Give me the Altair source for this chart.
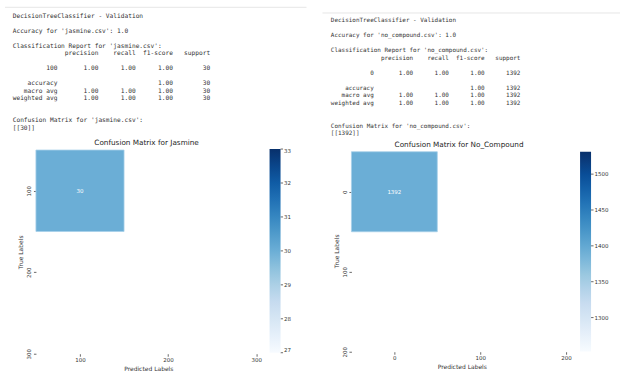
import re

import altair as alt
import pandas as pd

# ---------------- values ----------------
model_name = "DecisionTreeClassifier - Validation"
report_headers = ["precision", "recall", "f1-score", "support"]

# jasmine.csv
left_file = "jasmine.csv"
left_title = "Confusion Matrix for Jasmine"
left_classes = ["100"]
left_precision = [1.00]
left_recall = [1.00]
left_f1 = [1.00]
left_support = [30]
left_accuracy = 1.0
left_cm_labels = [100]
left_cm_counts = [30]
left_x_ticks = [100, 200, 300]
left_y_ticks = [100, 200, 300]
left_cbar_ticks = [27, 28, 29, 30, 31, 32, 33]

# no_compound.csv
right_file = "no_compound.csv"
right_title = "Confusion Matrix for No_Compound"
right_classes = ["0"]
right_precision = [1.00]
right_recall = [1.00]
right_f1 = [1.00]
right_support = [1392]
right_accuracy = 1.0
right_cm_labels = [0]
right_cm_counts = [1392]
right_x_ticks = [0, 100, 200]
right_y_ticks = [0, 100, 200]
right_cbar_ticks = [1300, 1350, 1400, 1450, 1500]

# matplotlib "Blues"
blues = ["#f7fbff", "#deebf7", "#c6dbef", "#9ecae1", "#6baed6",
         "#4292c6", "#2171b5", "#08519c", "#08306b"]

TEXT_COLOR = "#333333"
SANS = "DejaVu Sans"
MONO = "DejaVu Sans Mono"
COLS = 60  # console width in characters
BAR = 11   # colour bar thickness


def report_lines(fname, classes, prec, rec, f1, sup, acc, counts):
    """Console output of the validation run, line by line."""
    w = max(len("weighted avg"), max(len(c) for c in classes))
    head = "{:>{w}s} ".format("", w=w) + "".join(" {:>9}".format(h) for h in report_headers)

    def row(name, p, r, f, s):
        return ("{:>{w}s} ".format(name, w=w) + " {:>9.2f}".format(p)
                + " {:>9.2f}".format(r) + " {:>9.2f}".format(f) + " {:>9}".format(s))

    total = sum(sup)
    class_rows = [row(c, p, r, f, s) for c, p, r, f, s in zip(classes, prec, rec, f1, sup)]
    acc_row = ("{:>{w}s} ".format("accuracy", w=w) + " {:>9}".format("") * 2
               + " {:>9.2f}".format(acc) + " {:>9}".format(total))
    n = len(classes)
    macro = row("macro avg", sum(prec) / n, sum(rec) / n, sum(f1) / n, total)
    weighted = row("weighted avg",
                   sum(p * s for p, s in zip(prec, sup)) / total,
                   sum(r * s for r, s in zip(rec, sup)) / total,
                   sum(f * s for f, s in zip(f1, sup)) / total, total)
    lines = [model_name, "",
             f"Accuracy for '{fname}': {acc}", "",
             f"Classification Report for '{fname}':",
             head, "", *class_rows, "", acc_row, macro, weighted, "", "",
             f"Confusion Matrix for '{fname}':",
             "[[" + " ".join(str(c) for c in counts) + "]]"]
    # one record per word, keeping its character column
    recs = [{"row": r, "col": m.start(), "word": m.group()}
            for r, ln in enumerate(lines) for m in re.finditer(r"\S+", ln)]
    return pd.DataFrame(recs)


def panel(fname, title, classes, prec, rec, f1, sup, acc, labels, counts,
          x_ticks, y_ticks, cbar_ticks, x_dom, y_dom, width, height,
          text_x, text_rows, mono_size, sep_x, sep_y, cbar_x, cbar_y, cbar_len,
          title_x, title_y):
    cm = pd.DataFrame({"label": labels, "count": counts})
    vmin, vmax = counts[0] * 0.9, counts[0] * 1.1
    stops = [vmin + (vmax - vmin) * i / (len(blues) - 1) for i in range(len(blues))]

    base = alt.Chart(cm).transform_calculate(
        lo="datum.label - 50", hi="datum.label + 50"
    )
    cells = base.mark_rect(stroke="#a6cfe9", strokeWidth=0.8).encode(
        x=alt.X("lo:Q", scale=alt.Scale(domain=x_dom, nice=False, zero=False),
                axis=alt.Axis(values=x_ticks, format="d", title="Predicted Labels",
                              labelPadding=1.5, titlePadding=2.5)),
        x2="hi:Q",
        y=alt.Y("lo:Q", scale=alt.Scale(domain=y_dom, nice=False, zero=False, reverse=True),
                axis=alt.Axis(values=y_ticks, format="d", title="True Labels",
                              labelAngle=270, labelAlign="center", labelBaseline="bottom",
                              labelPadding=1.5, titlePadding=3)),
        y2="hi:Q",
        color=alt.Color("count:Q",
                        scale=alt.Scale(domain=stops, range=blues),
                        legend=alt.Legend(orient="none", legendX=cbar_x, legendY=cbar_y,
                                          direction="vertical", title=None,
                                          gradientLength=cbar_len, gradientThickness=BAR,
                                          gradientStrokeWidth=0,
                                          values=cbar_ticks, format="d",
                                          labelFont=SANS, labelFontSize=5.5,
                                          labelColor=TEXT_COLOR, labelOffset=3.5,
                                          labelAlign="left", labelBaseline="middle",
                                          labelOverlap=False)),
    )
    annot = alt.Chart(cm).mark_text(fontSize=5.5, font=SANS, color="white").encode(
        x="label:Q", y="label:Q", text="count:Q"
    )
    heat = alt.layer(cells, annot)

    # small tick marks on the right edge of the colour bar
    bar_ticks = alt.Chart(pd.DataFrame({"v": cbar_ticks})).mark_rule(
        color="#444444", strokeWidth=0.8
    ).encode(
        x=alt.value(cbar_x + BAR), x2=alt.value(cbar_x + BAR + 2.5),
        y=alt.Y("v:Q", axis=None,
                scale=alt.Scale(domain=[vmin, vmax], range=[cbar_y + cbar_len, cbar_y])),
    )

    words = report_lines(fname, classes, prec, rec, f1, sup, acc, counts)
    console = alt.Chart(words).mark_text(
        align="left", baseline="middle", font=MONO, fontSize=mono_size, color=TEXT_COLOR
    ).encode(
        x=alt.X("col:Q", axis=None,
                scale=alt.Scale(domain=[0, COLS],
                                range=[text_x, text_x + COLS * 0.602 * mono_size])),
        y=alt.Y("row:Q", scale=alt.Scale(domain=[0, 15], range=text_rows), axis=None),
        text="word:N",
    )
    heading = alt.Chart(pd.DataFrame({"t": [title]})).mark_text(
        font=SANS, fontSize=7.3, color="#262626", align="center", baseline="middle"
    ).encode(x=alt.value(title_x), y=alt.value(title_y), text="t:N")
    separator = alt.Chart(cm).mark_rule(color="#e6e6e6", strokeWidth=1).encode(
        x=alt.value(sep_x[0]), x2=alt.value(sep_x[1]), y=alt.value(sep_y)
    )
    return alt.layer(heat, bar_ticks, console, heading, separator).resolve_scale(
        x="independent", y="independent"
    ).properties(width=width, height=height)


left = panel(left_file, left_title, left_classes, left_precision, left_recall, left_f1,
             left_support, left_accuracy, left_cm_labels, left_cm_counts,
             left_x_ticks, left_y_ticks, left_cbar_ticks,
             x_dom=[50, 305], y_dom=[50, 300], width=225, height=204,
             text_x=-23.3, text_rows=[-134, -22.3], mono_size=6.2,
             sep_x=(-31, 271), sep_y=-143,
             cbar_x=234, cbar_y=-1, cbar_len=204,
             title_x=110.8, title_y=-6.7)

right = panel(right_file, right_title, right_classes, right_precision, right_recall, right_f1,
              right_support, right_accuracy, right_cm_labels, right_cm_counts,
              right_x_ticks, right_y_ticks, right_cbar_ticks,
              x_dom=[-50, 207], y_dom=[-52.1, 200], width=221, height=202,
              text_x=-20.6, text_rows=[-130, -17], mono_size=5.95,
              sep_x=(-29, 269), sep_y=-137.3,
              cbar_x=229, cbar_y=1.7, cbar_len=200,
              title_x=107.8, title_y=-5)

chart = alt.hconcat(left, right, spacing=91, bounds="flush").resolve_scale(
    color="independent", x="independent", y="independent"
).resolve_legend(color="independent").properties(
    padding={"left": 4, "top": 6, "right": 0, "bottom": 0}
).configure_view(
    strokeWidth=0
).configure_axis(
    domain=False, grid=False,
    tickColor="#444444", tickSize=2.5, tickWidth=0.8,
    labelFont=SANS, labelFontSize=5.5, labelColor=TEXT_COLOR,
    titleFont=SANS, titleFontSize=6, titleFontWeight="normal", titleColor=TEXT_COLOR,
)

chart.save("out.html", embed_options={"renderer": "svg", "actions": False})
